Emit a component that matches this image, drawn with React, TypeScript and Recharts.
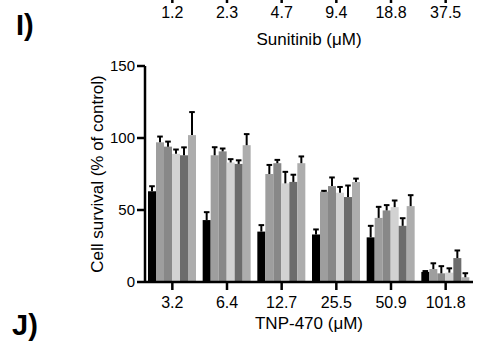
import React from "react";
import { BarChart, Bar, XAxis, YAxis } from "recharts";

// TNP-470 doses (x categories) and the cut-off Sunitinib panel above
const tnpDoses = ["3.2", "6.4", "12.7", "25.5", "50.9", "101.8"];
const sunitinibDoses = ["1.2", "2.3", "4.7", "9.4", "18.8", "37.5"];

// six series per dose group, mean and upper SEM
const s0 = [63, 43, 35, 33, 31, 7];
const e0 = [3.5, 5.5, 4.5, 3.5, 8, 0.6];
const s1 = [97, 88, 75, 62.7, 44.5, 9];
const e1 = [4, 5.6, 6.3, 0.6, 7.7, 4];
const s2 = [94, 90.7, 82.5, 66.6, 49.7, 6];
const e2 = [3.5, 2, 2.3, 6, 3.7, 5];
const s3 = [89, 83, 68.5, 62, 52, 6.5];
const e3 = [3, 2.3, 8, 4, 4.6, 3];
const s4 = [88, 82, 69.5, 59, 39, 16.6];
const e4 = [5.5, 2.5, 5, 8, 5.3, 5.3];
const s5 = [102, 95, 82.5, 69.4, 52.7, 3.3];
const e5 = [16, 7.7, 4.7, 2.4, 7.6, 2.8];

const series = [s0, s1, s2, s3, s4, s5];
const errors = [e0, e1, e2, e3, e4, e5];
const fills = ["#000000", "#9e9e9e", "#888888", "#d2d2d2", "#6c6c6c", "#adadad"];

const rows = tnpDoses.map((dose, i) => {
  const r: Record<string, number | string> = { dose };
  series.forEach((s, k) => {
    r[`v${k}`] = s[i];
    r[`e${k}`] = errors[k][i];
  });
  return r;
});

const topRows = sunitinibDoses.map((dose) => ({ dose }));

const FONT = "'Liberation Sans', Arial, Helvetica, sans-serif";

// bar + upward-only error whisker with cap
function BarErr(props: any) {
  const { x, y, width, height, fill, payload, k } = props;
  const v = payload[`v${k}`] as number;
  const e = payload[`e${k}`] as number;
  const ppu = v ? height / v : 0;
  const cx = x + width / 2;
  const top = y - e * ppu;
  return (
    <g>
      <rect x={x} y={y} width={width} height={height} fill={fill} />
      <line x1={cx} y1={y} x2={cx} y2={top} stroke="#000" strokeWidth={2} />
      <line x1={cx - 2.8} y1={top} x2={cx + 2.8} y2={top} stroke="#000" strokeWidth={2} />
    </g>
  );
}

const axisStyle = { stroke: "#000", strokeWidth: 2.5 };

export default function App() {
  return (
    <div
      style={{
        position: "absolute",
        left: 0,
        top: 0,
        width: 477,
        height: 342,
        overflow: "hidden",
        background: "#fff",
        fontFamily: FONT,
      }}
    >
      {/* bottom of the previous (Sunitinib) panel */}
      <div style={{ position: "absolute", left: 0, top: -20 }}>
        <BarChart width={477} height={80} data={topRows} margin={{ top: 5, right: 4, bottom: 10, left: 145 }}>
          <XAxis
            dataKey="dose"
            height={55}
            axisLine={axisStyle}
            tickLine={axisStyle}
            tickSize={8}
            tickMargin={4}
            tick={{ fill: "#000", fontSize: 16, fontFamily: FONT }}
            label={{
              value: "Sunitinib (\u03BCM)",
              position: "insideBottom",
              offset: 5,
              fill: "#000",
              fontSize: 17,
              fontFamily: FONT,
            }}
          />
          <YAxis hide domain={[0, 150]} />
        </BarChart>
      </div>

      <div style={{ position: "absolute", left: 0, top: 0 }}>
        <BarChart
          width={477}
          height={342}
          data={rows}
          margin={{ top: 66, right: 4, bottom: 8, left: 80 }}
          barCategoryGap={3}
          barGap={0}
        >
          <XAxis
            dataKey="dose"
            height={52}
            axisLine={axisStyle}
            tickLine={axisStyle}
            tickSize={8}
            tickMargin={7}
            tick={{ fill: "#000", fontSize: 16, fontFamily: FONT }}
            label={{
              value: "TNP-470 (\u03BCM)",
              position: "insideBottom",
              offset: 5,
              fill: "#000",
              fontSize: 17,
              fontFamily: FONT,
            }}
          />
          <YAxis
            width={65}
            domain={[0, 150]}
            ticks={[0, 50, 100, 150]}
            axisLine={axisStyle}
            tickLine={axisStyle}
            tickSize={8}
            tickMargin={2}
            tick={{ fill: "#000", fontSize: 15, fontFamily: FONT }}
            label={{
              content: (p: any) => {
                const vb = p.viewBox || {};
                const cx = (vb.x ?? 80) + 17;
                const cy = (vb.y ?? 66) + (vb.height ?? 216) / 2;
                return (
                  <text
                    transform={`translate(${cx},${cy}) rotate(-90)`}
                    textAnchor="middle"
                    dominantBaseline="central"
                    fill="#000"
                    fontSize={17}
                    fontFamily={FONT}
                  >
                    Cell survival (% of control)
                  </text>
                );
              },
            }}
          />
          {series.map((_, k) => (
            <Bar
              key={k}
              dataKey={`v${k}`}
              fill={fills[k]}
              isAnimationActive={false}
              shape={(p: any) => <BarErr {...p} k={k} fill={fills[k]} />}
            />
          ))}
        </BarChart>
      </div>

      <svg width={477} height={342} style={{ position: "absolute", left: 0, top: 0, pointerEvents: "none" }}>
        <text x={16} y={35} fontSize={29} fontWeight="bold" fontFamily={FONT} fill="#000">
          I)
        </text>
        <text x={12} y={335} fontSize={29} fontWeight="bold" fontFamily={FONT} fill="#000">
          J)
        </text>
      </svg>
    </div>
  );
}
